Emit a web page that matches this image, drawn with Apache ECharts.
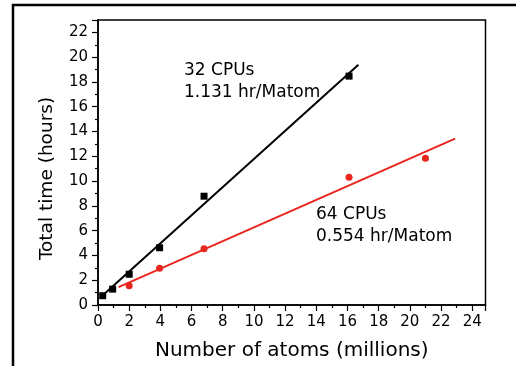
<!DOCTYPE html>
<html>
<head>
<meta charset="utf-8">
<script src="https://cdn.jsdelivr.net/npm/echarts@6/dist/echarts.min.js"></script>
<style>
  html, body { margin: 0; padding: 0; background: #fff; }
  #chart { width: 516px; height: 366px; }
</style>
</head>
<body>
<div id="chart"></div>
<script>
// measured points (millions of atoms, hours)
const cpu32Points = [[0.3, 0.75], [0.94, 1.28], [2.0, 2.48], [3.95, 4.62], [6.8, 8.78], [16.1, 18.47]];
const cpu64Points = [[2.0, 1.55], [3.95, 2.96], [6.8, 4.54], [16.1, 10.3], [21.0, 11.85]];
// fitted lines, end points
const cpu32Fit = [[0.15, 0.6], [16.7, 19.38]];
const cpu64Fit = [[1.32, 1.44], [22.9, 13.43]];

const xTitle = "Number of atoms (millions)";
const yTitle = "Total time (hours)";
const note32 = ["32 CPUs", "1.131 hr/Matom"];
const note64 = ["64 CPUs", "0.554 hr/Matom"];

const FONT = "DejaVu Sans";
const chart = echarts.init(document.getElementById("chart"), null, { renderer: "canvas" });

const axisCommon = {
  type: "value",
  nameLocation: "middle",
  nameTextStyle: { color: "#000", fontFamily: FONT },
  axisLine: { show: true, lineStyle: { color: "#000", width: 1.5 } },
  axisTick: { show: true, inside: false, length: 6, lineStyle: { color: "#000", width: 1.2 } },
  minorTick: { show: true, splitNumber: 2, length: 3, lineStyle: { color: "#000", width: 1.2 } },
  axisLabel: { color: "#000", fontFamily: FONT, fontSize: 15, margin: 10 },
  splitLine: { show: false },
  minorSplitLine: { show: false },
};

chart.setOption({
  animation: false,
  backgroundColor: "#fff",
  grid: {
    left: 98,
    right: 30.5,
    top: 20,
    bottom: 59,
    show: true,
    borderColor: "#000",
    borderWidth: 1.5,
  },
  xAxis: {
    ...axisCommon,
    min: 0,
    max: 24.85,
    interval: 2,
    name: xTitle,
    nameGap: 36,
    nameTextStyle: { ...axisCommon.nameTextStyle, fontSize: 20 },
  },
  yAxis: {
    ...axisCommon,
    min: 0,
    max: 23,
    interval: 2,
    name: yTitle,
    nameGap: 41,
    nameTextStyle: { ...axisCommon.nameTextStyle, fontSize: 18.5, padding: [0, 32, 0, 0] },
  },
  series: [
    {
      type: "line",
      data: cpu32Fit,
      showSymbol: false,
      lineStyle: { color: "#000", width: 2 },
      z: 2,
    },
    {
      type: "line",
      data: cpu64Fit,
      showSymbol: false,
      lineStyle: { color: "#e8261e", width: 2 },
      z: 2,
    },
    {
      type: "scatter",
      data: cpu32Points,
      symbol: "rect",
      symbolSize: 7,
      itemStyle: { color: "#000", opacity: 1 },
      z: 3,
    },
    {
      type: "scatter",
      data: cpu64Points,
      symbol: "circle",
      symbolSize: 7,
      itemStyle: { color: "#e8261e", opacity: 1 },
      z: 3,
    },
  ],
  graphic: [
    {
      type: "rect",
      shape: { x: 13, y: 5, width: 600, height: 500 },
      style: { fill: "none", stroke: "#000", lineWidth: 2.5 },
      silent: true,
    },
    {
      type: "text",
      left: 184,
      top: 60,
      style: { text: note32.join("\n"), font: "17px '" + FONT + "'", fill: "#000", lineHeight: 22 },
    },
    {
      type: "text",
      left: 316,
      top: 204,
      style: { text: note64.join("\n"), font: "17px '" + FONT + "'", fill: "#000", lineHeight: 22 },
    },
  ],
});
</script>
</body>
</html>
